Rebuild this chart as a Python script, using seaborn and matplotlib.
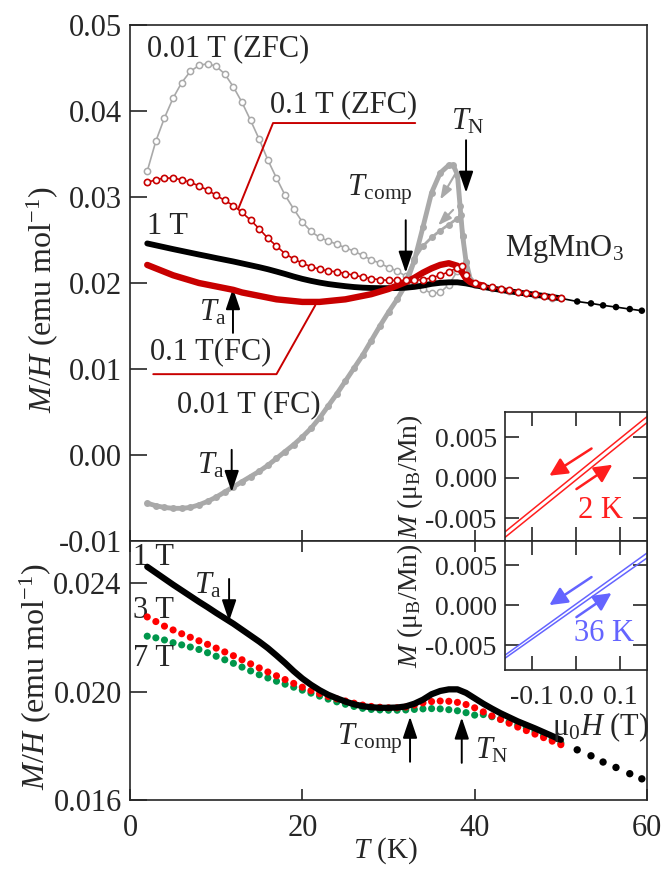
import numpy as np
import seaborn as sns
import matplotlib.pyplot as plt

sns.set_theme(style="ticks")
plt.rcParams["font.family"] = ["Liberation Serif", "DejaVu Serif"]
plt.rcParams["mathtext.fontset"] = "custom"
plt.rcParams["mathtext.rm"] = "Liberation Serif"
plt.rcParams["mathtext.it"] = "Liberation Serif:italic"
plt.rcParams["mathtext.bf"] = "Liberation Serif:bold"
plt.rcParams["axes.unicode_minus"] = False

GRAY = "#a9a9a9"
DRED = "#c80000"
RED = "#ff0000"
GREEN = "#00964b"
IRED = "#ff1e1e"
BLUE = "#6464ff"

# ---- top panel data (M/H vs T) ----
T_zfc = [2, 3, 4, 5, 6, 7, 8, 9, 10, 11, 12, 13, 14, 15, 16, 17, 18, 19, 20, 21,
         22, 23, 24, 25, 26, 27, 28, 29, 30, 31, 32, 33, 34, 35, 36, 37, 38, 38.5,
         39, 40, 41, 42, 43, 44, 45, 46, 47, 48, 49, 50]
M_zfc_001 = [0.0330, 0.0365, 0.0392, 0.0415, 0.0433, 0.0446, 0.0453, 0.0455, 0.0452, 0.0443,
             0.0428, 0.0410, 0.0389, 0.0367, 0.0343, 0.0322, 0.0302, 0.0286, 0.0271, 0.0260,
             0.0253, 0.0249, 0.0245, 0.0241, 0.0237, 0.0232, 0.0227, 0.0223, 0.0218, 0.0214,
             0.0208, 0.0201, 0.0193, 0.0188, 0.0189, 0.0198, 0.0214, 0.0219,
             0.0209, 0.0199, 0.0196, 0.0194, 0.0193, 0.0191, 0.0189, 0.0188, 0.0186, 0.0185, 0.0183, 0.0182]
M_zfc_01 = [0.0317, 0.0320, 0.0322, 0.0322, 0.0320, 0.0317, 0.0313, 0.0308, 0.0302, 0.0296,
            0.0290, 0.0282, 0.0273, 0.0263, 0.0252, 0.0243, 0.0234, 0.0228, 0.0223, 0.0219,
            0.0216, 0.0214, 0.0213, 0.0211, 0.0209, 0.0207, 0.0205, 0.0204, 0.0203, 0.0203,
            0.0203, 0.0203, 0.0204, 0.0206, 0.0209, 0.0213, 0.0218, 0.0220,
            0.0209, 0.0200, 0.0197, 0.0195, 0.0193, 0.0192, 0.0190, 0.0188, 0.0187, 0.0185, 0.0184, 0.0182]

T_1T = np.arange(2, 51)
M_1T = [0.02460, 0.02438, 0.02416, 0.02394, 0.02373, 0.02352, 0.02331, 0.02311, 0.02290, 0.02270,
        0.02250, 0.02228, 0.02206, 0.02184, 0.02160, 0.02133, 0.02105, 0.02075, 0.02048, 0.02025,
        0.02005, 0.01988, 0.01975, 0.01963, 0.01953, 0.01946, 0.01942, 0.01940, 0.01940, 0.01941,
        0.01945, 0.01955, 0.01970, 0.01990, 0.02002, 0.02008, 0.02008, 0.01995, 0.01975, 0.01955,
        0.01937, 0.01920, 0.01905, 0.01890, 0.01877, 0.01864, 0.01850, 0.01836, 0.01822]
T_1T_hi = [51.9, 53.5, 54.9, 56.4, 58.0, 59.4]
M_1T_hi = [0.01785, 0.01763, 0.01740, 0.01720, 0.01697, 0.01678]

T_fc_01 = [2, 3, 4, 5, 6, 7, 8, 9, 10, 11, 12, 13, 14, 15, 16, 17, 18, 19, 20, 21,
           22, 23, 24, 25, 26, 27, 28, 29, 30, 31, 32, 33, 34, 35, 36, 37, 38, 38.5,
           39, 39.5, 40, 41]
M_fc_01 = [0.0221, 0.0217, 0.0213, 0.0209, 0.0206, 0.0203, 0.0200, 0.0198, 0.0196, 0.0194,
           0.0192, 0.0189, 0.0187, 0.0185, 0.0183, 0.0181, 0.0180, 0.0179, 0.0178, 0.0178,
           0.0178, 0.0179, 0.0180, 0.0181, 0.0183, 0.0185, 0.0187, 0.0190, 0.0193, 0.0197,
           0.0201, 0.0206, 0.0212, 0.0217, 0.0221, 0.0223, 0.0220, 0.0213,
           0.0205, 0.0201, 0.0199, 0.0197]

T_fc_001 = [2, 3, 4, 5, 6, 7, 8, 9, 10, 11, 12, 13, 14, 15, 16, 17, 18, 19, 20, 21,
            22, 23, 24, 25, 26, 27, 28, 29, 30, 31, 32, 33, 34, 35, 36, 37, 37.5, 38,
            38.3, 38.6, 39, 39.5, 40, 41]
M_fc_001 = [-0.0056, -0.0059, -0.0061, -0.0062, -0.0062, -0.0061, -0.0058, -0.0054, -0.0049, -0.0043,
            -0.0037, -0.0031, -0.0025, -0.0019, -0.0012, -0.0004, 0.0004, 0.0012, 0.0021, 0.0031,
            0.0043, 0.0057, 0.0071, 0.0086, 0.0101, 0.0116, 0.0133, 0.0150, 0.0166, 0.0181,
            0.0198, 0.0226, 0.0265, 0.0305, 0.0328, 0.0337, 0.0337, 0.0326,
            0.0290, 0.0255, 0.0225, 0.0204, 0.0198, 0.0196]
T_fc_001b = [32, 33, 34, 35, 36, 37, 38, 38.4, 38.7, 39, 39.5]
M_fc_001b = [0.0205, 0.0228, 0.0243, 0.0253, 0.0261, 0.0268, 0.0275, 0.0279, 0.0255, 0.0225, 0.0204]

# ---- bottom panel data ----
T_hf = np.arange(2, 51)
M_3T = [0.02275, 0.02258, 0.02241, 0.02227, 0.02213, 0.02200, 0.02187, 0.02174, 0.02160, 0.02146,
        0.02132, 0.02117, 0.02102, 0.02087, 0.02072, 0.02058, 0.02044, 0.02030, 0.02016, 0.02003,
        0.01992, 0.01982, 0.01973, 0.01965, 0.01957, 0.01950, 0.01945, 0.01942, 0.01940, 0.01940,
        0.01943, 0.01950, 0.01958, 0.01963, 0.01965, 0.01964, 0.01960, 0.01952, 0.01940, 0.01925,
        0.01910, 0.01897, 0.01883, 0.01869, 0.01856, 0.01843, 0.01830, 0.01817, 0.01804]
M_7T = [0.02204, 0.02198, 0.02190, 0.02180, 0.02172, 0.02164, 0.02155, 0.02143, 0.02130, 0.02117,
        0.02104, 0.02090, 0.02076, 0.02062, 0.02050, 0.02038, 0.02027, 0.02016, 0.02005, 0.01994,
        0.01983, 0.01972, 0.01962, 0.01953, 0.01945, 0.01938, 0.01934, 0.01932, 0.01931, 0.01931,
        0.01932, 0.01934, 0.01936, 0.01937, 0.01936, 0.01933, 0.01929, 0.01922, 0.01913, 0.01915,
        0.01907, 0.01898, 0.01888, 0.01877, 0.01865, 0.01852, 0.01838, 0.01824, 0.01810]

# ---- insets: M vs mu0H loops ----
H_loop = [-0.16, -0.08, 0.0, 0.08, 0.16]
M_2K_a = [-0.00667, -0.00312, 0.00043, 0.00398, 0.00753]
M_2K_b = [-0.00735, -0.00382, -0.00028, 0.00326, 0.00679]
M_36K_a = [-0.00625, -0.00306, 0.00013, 0.00331, 0.00650]
M_36K_b = [-0.00663, -0.00350, -0.00037, 0.00276, 0.00588]

# label leader lines (T, M)
lead_zfc01 = ([33.1, 16.6, 12.6], [0.0386, 0.0386, 0.0287])
lead_fc01 = ([2.7, 17.0, 21.5], [0.0094, 0.0094, 0.0174])


def curve(ax, x, y, **kw):
    sns.lineplot(x=x, y=y, ax=ax, sort=False, estimator=None, **kw)


def arrow(ax, tail, tip, color="black", lw=1.4, hl=0.65, hw=0.22, ms=20):
    ax.annotate("", xy=tip, xytext=tail,
                arrowprops=dict(arrowstyle=f"-|>,head_length={hl},head_width={hw}",
                                color=color, lw=lw, mutation_scale=ms,
                                shrinkA=0, shrinkB=0))


W, H = 664, 869
fig = plt.figure(figsize=(W / 100, H / 100), dpi=100)
ax1 = fig.add_axes([130 / W, 1 - 541 / H, 517 / W, 516 / H])
ax2 = fig.add_axes([130 / W, 1 - 800 / H, 517 / W, 259 / H])
ins1 = fig.add_axes([505 / W, 1 - 541 / H, 142 / W, 129 / H])
ins2 = fig.add_axes([505 / W, 1 - 670 / H, 142 / W, 129 / H])

# ---------- top panel ----------
curve(ax1, T_zfc, M_zfc_001, color=GRAY, linewidth=1.2, marker="o", markersize=4.5,
      markerfacecolor="white", markeredgecolor=GRAY, markeredgewidth=1.1, zorder=2)
curve(ax1, T_fc_001, M_fc_001, color=GRAY, linewidth=3.5, marker="o", markersize=5,
      markeredgewidth=0, zorder=3)
curve(ax1, T_fc_001b, M_fc_001b, color=GRAY, linewidth=2, marker="o", markersize=5,
      markeredgewidth=0, zorder=3)
curve(ax1, list(T_1T) + T_1T_hi, M_1T + M_1T_hi, color="black", linewidth=1.2, zorder=4)
curve(ax1, T_1T, M_1T, color="black", linewidth=4.2, zorder=4)
sns.scatterplot(x=T_1T_hi, y=M_1T_hi, ax=ax1, color="black", s=22, edgecolor="none", zorder=4)
curve(ax1, T_fc_01, M_fc_01, color=DRED, linewidth=4.6, zorder=5)
curve(ax1, T_zfc, M_zfc_01, color=DRED, linewidth=1.2, marker="o", markersize=4.5,
      markerfacecolor="white", markeredgecolor=DRED, markeredgewidth=1.2, zorder=6)

ax1.plot(lead_zfc01[0], lead_zfc01[1], color=DRED, lw=1.4)
ax1.plot(lead_fc01[0], lead_fc01[1], color=DRED, lw=1.4)

arrow(ax1, (37.7, 0.0326), (36.0, 0.0297), color=GRAY, lw=1.5, hl=0.5, hw=0.18, ms=16)
arrow(ax1, (37.5, 0.0285), (35.75, 0.0267), color=GRAY, lw=1.5, hl=0.5, hw=0.18, ms=16)

fs = 22
ax1.text(2.0, 0.0473, "0.01 T (ZFC)", fontsize=fs, va="center", ha="left")
ax1.text(16.2, 0.0407, "0.1 T (ZFC)", fontsize=fs, va="center", ha="left")
ax1.text(2.0, 0.0266, "1 T", fontsize=fs, va="center", ha="left")
ax1.text(2.3, 0.0120, "0.1 T(FC)", fontsize=fs, va="center", ha="left")
ax1.text(5.45, 0.0059, "0.01 T (FC)", fontsize=fs, va="center", ha="left")
ax1.text(50.4, 0.0240, r"MgMnO$_3$", fontsize=fs, va="center", ha="center")
ax1.text(9.6, 0.0165, r"$T_{\rm a}$", fontsize=fs, va="center", ha="center")
arrow(ax1, (11.95, 0.0142), (11.95, 0.0194))
ax1.text(9.4, -0.0013, r"$T_{\rm a}$", fontsize=fs, va="center", ha="center")
arrow(ax1, (11.8, 0.0006), (11.8, -0.0043))
ax1.text(29.0, 0.0308, r"$T_{\rm comp}$", fontsize=fs, va="center", ha="center")
arrow(ax1, (32.0, 0.0273), (32.0, 0.0212))
ax1.text(39.2, 0.0388, r"$T_{\rm N}$", fontsize=fs, va="center", ha="center")
arrow(ax1, (39.0, 0.0366), (39.0, 0.0305))

ax1.set_xlim(0, 60)
ax1.set_ylim(-0.01, 0.05)
yt1 = [-0.01, 0.0, 0.01, 0.02, 0.03, 0.04, 0.05]
ax1.set_yticks(yt1)
ax1.set_yticklabels([f"{v:.2f}" for v in yt1])
ax1.set_xticks([0, 20, 40, 60])
ax1.tick_params(axis="y", direction="in", length=12, width=1.2, labelsize=fs, pad=6)
ax1.tick_params(axis="x", direction="in", length=8, width=1.2, labelbottom=False)
ax1.set_ylabel(r"$M/H$ (emu mol$^{-1}$)", fontsize=23)
ax1.yaxis.set_label_coords(-0.135, 0.467)

# ---------- bottom panel ----------
sns.scatterplot(x=T_hf, y=M_7T, ax=ax2, color=GREEN, s=26, edgecolor="none", zorder=3)
sns.scatterplot(x=T_hf, y=M_3T, ax=ax2, color=RED, s=26, edgecolor="none", zorder=4)
curve(ax2, T_1T, M_1T, color="black", linewidth=4.5, zorder=5)
sns.scatterplot(x=T_1T_hi, y=M_1T_hi, ax=ax2, color="black", s=28, edgecolor="none", zorder=5)

ax2.text(0.35, 0.02496, "1 T", fontsize=fs, va="center", ha="left")
ax2.text(0.35, 0.0230, "3 T", fontsize=fs, va="center", ha="left")
ax2.text(0.35, 0.02122, "7 T", fontsize=fs, va="center", ha="left")
ax2.text(9.05, 0.02389, r"$T_{\rm a}$", fontsize=fs, va="center", ha="center")
arrow(ax2, (11.5, 0.02415), (11.5, 0.02259))
ax2.text(27.85, 0.01826, r"$T_{\rm comp}$", fontsize=fs, va="center", ha="center")
arrow(ax2, (32.5, 0.01741), (32.5, 0.01907))
ax2.text(42.0, 0.01781, r"$T_{\rm N}$", fontsize=fs, va="center", ha="center")
arrow(ax2, (38.5, 0.01737), (38.5, 0.01904))

ax2.set_xlim(0, 60)
ax2.set_ylim(0.016, 0.02555)
yt2 = [0.016, 0.020, 0.024]
ax2.set_yticks(yt2)
ax2.set_yticklabels([f"{v:.3f}" for v in yt2])
ax2.set_xticks([0, 20, 40, 60])
ax2.tick_params(axis="y", direction="in", length=12, width=1.2, labelsize=fs, pad=6)
ax2.tick_params(axis="x", direction="in", length=8, width=1.2, labelsize=fs, pad=10, top=True)
ax2.set_ylabel(r"$M/H$ (emu mol$^{-1}$)", fontsize=23)
ax2.yaxis.set_label_coords(-0.148, 0.477)
ax2.set_xlabel(r"$T$ (K)", fontsize=21)
ax2.xaxis.set_label_coords(0.493, -0.135)

# ---------- insets ----------
for ins, Ma, Mb, col, lab, txt_xy, arrs, ylo, yhi in [
        (ins1, M_2K_a, M_2K_b, IRED, "2 K", (0.055, -0.0040),
         [((0.035, 0.0036), (-0.06, 0.00025)), ((0.001, -0.0014), (0.082, 0.0016))],
         -0.0078, 0.0081),
        (ins2, M_36K_a, M_36K_b, BLUE, "36 K", (0.062, -0.0036),
         [((0.035, 0.0035), (-0.06, 0.0)), ((0.001, -0.0015), (0.080, 0.0015))],
         -0.0081, 0.0080)]:
    curve(ins, H_loop, Ma, color=col, linewidth=1.1)
    curve(ins, H_loop, Mb, color=col, linewidth=1.1)
    for tail, tip in arrs:
        arrow(ins, tail, tip, color=col, lw=1.8, hl=0.6, hw=0.3, ms=18)
    ins.text(txt_xy[0], txt_xy[1], lab, fontsize=fs, color=col, ha="center", va="center")
    ins.set_xlim(-0.16, 0.16)
    ins.set_ylim(ylo, yhi)
    ins.set_xticks([-0.1, 0.0, 0.1])
    ins.set_yticks([-0.005, 0.0, 0.005])
    ins.set_yticklabels(["-0.005", "0.000", "0.005"])
    ins.tick_params(direction="in", length=10, width=1.2, top=True, right=True,
                    labelsize=20, pad=6)
    ins.set_ylabel(r"$M$ (μ$_{\rm B}$/Mn)", fontsize=20)
    ins.yaxis.set_label_coords(-0.56, 0.5)
    for sp in ins.spines.values():
        sp.set_linewidth(1.2)

ins1.tick_params(labelbottom=False)
ins2.set_xticklabels(["-0.1", "0.0", "0.1"])
ins2.tick_params(axis="x", pad=11)
ins2.set_xlabel(r"μ$_0$$H$ (T)", fontsize=fs)
ins2.xaxis.set_label_coords(0.67, -0.31)

for ax in (ax1, ax2):
    for sp in ax.spines.values():
        sp.set_linewidth(1.2)

fig.savefig("out.png", dpi=100)
